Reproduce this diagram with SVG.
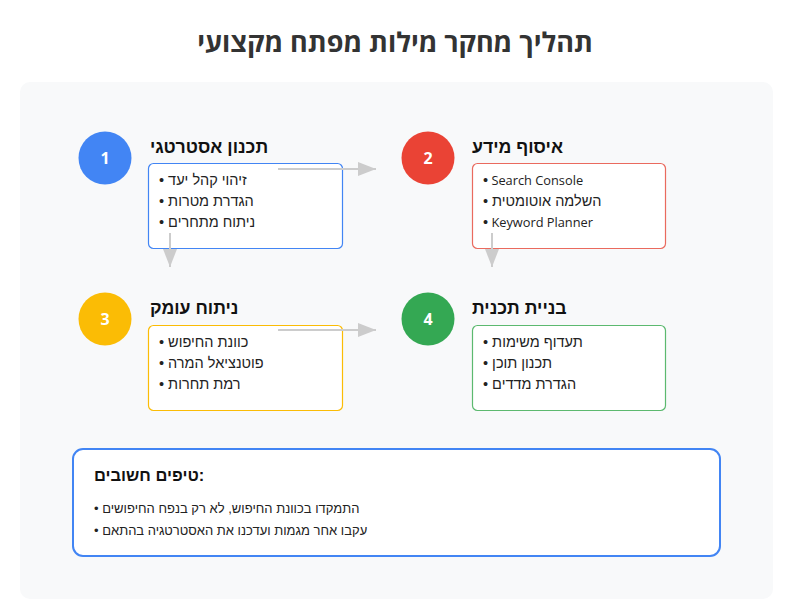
<svg xmlns="http://www.w3.org/2000/svg" width="791" height="612" viewBox="0 0 791 612">
<style>
text{font-family:"Open Sans","DejaVu Sans",sans-serif;}
.title{font-size:27px;font-weight:bold;fill:#333;}
.num{font-size:16px;font-weight:bold;fill:#fff;}
.head{font-size:17.7px;font-weight:bold;fill:#111;font-family:"Liberation Sans","Open Sans",sans-serif;}
.item{font-size:14.5px;fill:#222;font-family:"Liberation Sans","Open Sans",sans-serif;}
.lat{font-size:12.8px;font-family:"Open Sans","DejaVu Sans",sans-serif;}
.bul{font-size:14.5px;font-family:"Liberation Sans",sans-serif;}
.box{fill:#fff;stroke-width:1.2;}
.conn{stroke:#cccccc;stroke-width:2;fill:none;}
</style>
<defs>
<marker id="ah" viewBox="0 0 10 10" refX="10" refY="5" markerWidth="18" markerHeight="14" markerUnits="userSpaceOnUse" orient="auto" preserveAspectRatio="none">
<path d="M0,0 L10,5 L0,10 Z" fill="#cccccc"/>
</marker>
</defs>
<rect width="791" height="612" fill="#fff"/>
<text class="title" x="395" y="52" text-anchor="middle">תהליך מחקר מילות מפתח מקצועי</text>
<rect x="20" y="82" width="753" height="517" rx="10" fill="#f8f9fa"/>

<g id="node1">
<circle cx="105" cy="158" r="26.5" fill="#4285f4"/>
<text class="num" x="105" y="164" text-anchor="middle">1</text>
<text class="head" x="150" y="153">תכנון אסטרטגי</text>
<rect class="box" x="148.5" y="163.5" width="194" height="85" rx="5" stroke="#4285f4"/>
<text class="item" x="159" y="185">• זיהוי קהל יעד</text>
<text class="item" x="159" y="206">• הגדרת מטרות</text>
<text class="item" x="159" y="227">• ניתוח מתחרים</text>
</g>

<g id="node2">
<circle cx="428" cy="158" r="26.5" fill="#ea4335"/>
<text class="num" x="428" y="164" text-anchor="middle">2</text>
<text class="head" x="472" y="153">איסוף מידע</text>
<rect class="box" x="472.5" y="163.5" width="193" height="85" rx="5" stroke="#ea6a5e"/>
<text class="item lat" x="483" y="185"><tspan class="bul">•</tspan> Search Console</text>
<text class="item" x="483" y="206">• השלמה אוטומטית</text>
<text class="item lat" x="483" y="227"><tspan class="bul">•</tspan> Keyword Planner</text>
</g>

<g id="node3">
<circle cx="105" cy="319" r="26.5" fill="#fbbc05"/>
<text class="num" x="105" y="325" text-anchor="middle">3</text>
<text class="head" x="150" y="314">ניתוח עומק</text>
<rect class="box" x="148.5" y="325.5" width="194" height="85" rx="5" stroke="#fbbc05"/>
<text class="item" x="159" y="347">• כוונת החיפוש</text>
<text class="item" x="159" y="368">• פוטנציאל המרה</text>
<text class="item" x="159" y="389">• רמת תחרות</text>
</g>

<g id="node4">
<circle cx="428" cy="319" r="26.5" fill="#34a853"/>
<text class="num" x="428" y="325" text-anchor="middle">4</text>
<text class="head" x="472" y="314">בניית תכנית</text>
<rect class="box" x="472.5" y="325.5" width="193" height="85" rx="5" stroke="#5cb96f"/>
<text class="item" x="483" y="347">• תעדוף משימות</text>
<text class="item" x="483" y="368">• תכנון תוכן</text>
<text class="item" x="483" y="389">• הגדרת מדדים</text>
</g>

<g id="connectors">
<line class="conn" x1="278" y1="169" x2="376" y2="169" marker-end="url(#ah)"/>
<line class="conn" x1="170" y1="233" x2="170" y2="267" marker-end="url(#ah)"/>
<line class="conn" x1="492" y1="233" x2="492" y2="267" marker-end="url(#ah)"/>
<line class="conn" x1="278" y1="330" x2="376" y2="330" marker-end="url(#ah)"/>
</g>

<g id="tips">
<rect x="73" y="449" width="647" height="107" rx="10" fill="#fff" stroke="#4285f4" stroke-width="2"/>
<text class="head" x="94" y="481" style="font-size:16.5px">טיפים חשובים:</text>
<text class="item" x="94" y="513" style="font-size:13px">• התמקדו בכוונת החיפוש, לא רק בנפח החיפושים</text>
<text class="item" x="94" y="535" style="font-size:13px">• עקבו אחר מגמות ועדכנו את האסטרטגיה בהתאם</text>
</g>
</svg>
